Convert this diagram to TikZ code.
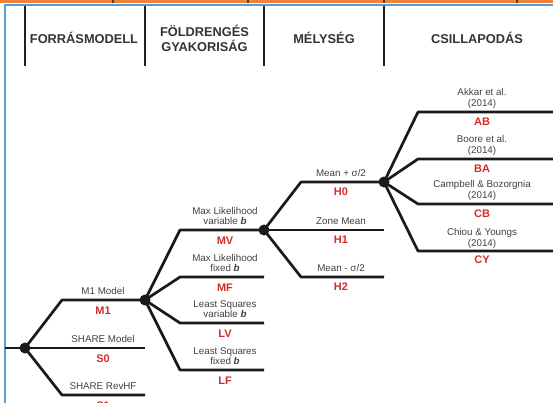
\documentclass[tikz,border=0pt]{standalone}
\usepackage{fontspec}
\setmainfont{Liberation Sans}
\definecolor{orangec}{HTML}{EE8236}
\definecolor{tickc}{HTML}{5A3A20}
\definecolor{bluec}{HTML}{5B9BD5}
\definecolor{divc}{HTML}{222222}
\definecolor{linec}{HTML}{1A1A1A}
\definecolor{redc}{HTML}{D42A2A}
\definecolor{lblc}{HTML}{404040}
\definecolor{hdrc}{HTML}{333333}
\begin{document}
\begin{tikzpicture}[x=1pt,y=-1pt,
  branch/.style={line width=2.7pt, draw=linec, line join=round},
  dot/.style={circle, fill=linec, inner sep=0pt, minimum size=11pt},
  lbl/.style={font=\fontsize{9.8}{11}\selectfont, text=lblc, anchor=base, inner sep=0pt},
  code/.style={font=\fontsize{11}{12}\selectfont\bfseries, text=redc, anchor=base, inner sep=0pt},
  hdr/.style={font=\fontsize{12.8}{14}\selectfont\bfseries, text=hdrc, anchor=base, inner sep=0pt},
  divider/.style={line width=2pt, draw=divc}]
\useasboundingbox (0,0) rectangle (553,402);
\clip (0,0) rectangle (553,402);
% top frame
\fill[orangec] (0,0) rectangle (553,3.2);
\foreach \tx in {113,248,384,517} \fill[tickc] (\tx-1,0) rectangle (\tx+1,2.5);
\draw[bluec, line width=2pt] (5,405) -- (5,4.6) -- (556,4.6);
% header dividers
\foreach \dx in {25,145,264,384} \draw[divider] (\dx,5.6) -- (\dx,65.5);
\node[hdr] (hA) at (84,43.6) {FORRÁSMODELL};
\node[hdr] (hB1) at (204.5,36.4) {FÖLDRENGÉS};
\node[hdr] (hB2) at (204.5,51) {GYAKORISÁG};
\node[hdr] (hC) at (324,43.6) {MÉLYSÉG};
\node[hdr] (hD) at (477,43.6) {CSILLAPODÁS};
% tree coordinates
\coordinate (lft) at (5,348);
\coordinate (root) at (25,348);
\coordinate (n1) at (145,300);
\coordinate (n2) at (264,230);
\coordinate (n3) at (384,182);
\coordinate (m1k) at (62,300);
\coordinate (s0e) at (145,348);
\coordinate (s1k) at (62,395);
\coordinate (s1e) at (145,395);
\coordinate (mvk) at (180,230);
\coordinate (mfk) at (180,277);
\coordinate (mfe) at (264,277);
\coordinate (lvk) at (180,323);
\coordinate (lve) at (264,323);
\coordinate (lfk) at (180,370);
\coordinate (lfe) at (264,370);
\coordinate (h0k) at (301,182);
\coordinate (h1e) at (384,230);
\coordinate (h2k) at (301,277);
\coordinate (h2e) at (384,277);
\coordinate (abk) at (418,112);
\coordinate (abe) at (556,112);
\coordinate (bak) at (418,159);
\coordinate (bae) at (556,159);
\coordinate (cbk) at (418,204);
\coordinate (cbe) at (556,204);
\coordinate (cyk) at (418,251);
\coordinate (cye) at (556,251);
% branches
\draw[branch] (lft) -- (root);
\draw[branch] (root) -- (m1k) -- (n1);
\draw[branch] (root) -- (s0e);
\draw[branch] (root) -- (s1k) -- (s1e);
\draw[branch] (n1) -- (mvk) -- (n2);
\draw[branch] (n1) -- (mfk) -- (mfe);
\draw[branch] (n1) -- (lvk) -- (lve);
\draw[branch] (n1) -- (lfk) -- (lfe);
\draw[branch] (n2) -- (h0k) -- (n3);
\draw[branch] (n2) -- (h1e);
\draw[branch] (n2) -- (h2k) -- (h2e);
\draw[branch] (n3) -- (abk) -- (abe);
\draw[branch] (n3) -- (bak) -- (bae);
\draw[branch] (n3) -- (cbk) -- (cbe);
\draw[branch] (n3) -- (cyk) -- (cye);
% dots
\node[dot] (d0) at (root) {};
\node[dot] (d1) at (n1) {};
\node[dot] (d2) at (n2) {};
\node[dot] (d3) at (n3) {};
% level 1 labels
\node[lbl] (t11) at (103,294.4) {M1 Model};
\node[code] (c11) at (103,314.9) {M1};
\node[lbl] (t12) at (103,342.4) {SHARE Model};
\node[code] (c12) at (103,362.9) {S0};
\node[lbl] (t13) at (103,389.4) {SHARE RevHF};
\node[code] (c13) at (103,409.9) {S1};
% level 2 labels
\node[lbl] (t21a) at (225,214.4) {Max Likelihood};
\node[lbl] (t21b) at (225,224.9) {variable \textbf{\textit{b}}};
\node[code] (c21) at (225,244.9) {MV};
\node[lbl] (t22a) at (225,261.4) {Max Likelihood};
\node[lbl] (t22b) at (225,271.9) {fixed \textbf{\textit{b}}};
\node[code] (c22) at (225,291.9) {MF};
\node[lbl] (t23a) at (225,307.4) {Least Squares};
\node[lbl] (t23b) at (225,317.9) {variable \textbf{\textit{b}}};
\node[code] (c23) at (225,337.9) {LV};
\node[lbl] (t24a) at (225,354.4) {Least Squares};
\node[lbl] (t24b) at (225,364.9) {fixed \textbf{\textit{b}}};
\node[code] (c24) at (225,384.9) {LF};
% level 3 labels
\node[lbl] (t31) at (341,176.4) {Mean + σ/2};
\node[code] (c31) at (341,195.9) {H0};
\node[lbl] (t32) at (341,224.4) {Zone Mean};
\node[code] (c32) at (341,243.9) {H1};
\node[lbl] (t33) at (341,271.4) {Mean - σ/2};
\node[code] (c33) at (341,290.9) {H2};
% level 4 labels
\node[lbl] (t41a) at (482,95.4) {Akkar et al.};
\node[lbl] (t41b) at (482,106.4) {(2014)};
\node[code] (c41) at (482,125.9) {AB};
\node[lbl] (t42a) at (482,142.4) {Boore et al.};
\node[lbl] (t42b) at (482,153.4) {(2014)};
\node[code] (c42) at (482,172.9) {BA};
\node[lbl] (t43a) at (482,187.9) {Campbell \& Bozorgnia};
\node[lbl] (t43b) at (482,198.9) {(2014)};
\node[code] (c43) at (482,217.4) {CB};
\node[lbl] (t44a) at (482,235.4) {Chiou \& Youngs};
\node[lbl] (t44b) at (482,246.4) {(2014)};
\node[code] (c44) at (482,263.9) {CY};
\end{tikzpicture}
\end{document}
